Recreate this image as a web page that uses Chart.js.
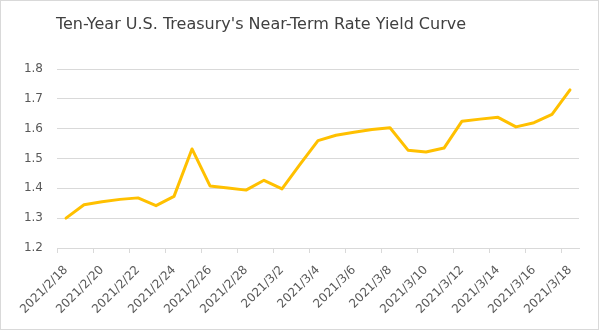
<!DOCTYPE html>
<html>
<head>
<meta charset="utf-8">
<title>Ten-Year U.S. Treasury Yield</title>
<script src="https://cdn.jsdelivr.net/npm/chart.js@4.4.1/dist/chart.umd.min.js"></script>
<style>
  html, body { margin: 0; padding: 0; background: #fff; overflow: hidden; }
  #wrap { width: 600px; height: 331px; }
</style>
</head>
<body>
<div id="wrap"><canvas id="yieldChart" width="600" height="331"></canvas></div>
<script>
'use strict';

const chartTitle = "Ten-Year U.S. Treasury's Near-Term Rate Yield Curve";

// one entry per calendar day, 2021/2/18 .. 2021/3/18
const dates = [
    '2021/2/18', '2021/2/19', '2021/2/20', '2021/2/21', '2021/2/22', '2021/2/23', '2021/2/24',
    '2021/2/25', '2021/2/26', '2021/2/27', '2021/2/28', '2021/3/1', '2021/3/2', '2021/3/3',
    '2021/3/4', '2021/3/5', '2021/3/6', '2021/3/7', '2021/3/8', '2021/3/9', '2021/3/10',
    '2021/3/11', '2021/3/12', '2021/3/13', '2021/3/14', '2021/3/15', '2021/3/16', '2021/3/17',
    '2021/3/18'
];

const yields = [
    1.300, 1.345, 1.355, 1.363, 1.368, 1.342, 1.373,
    1.532, 1.408, 1.401, 1.394, 1.427, 1.398, 1.480,
    1.560, 1.578, 1.588, 1.597, 1.603, 1.528, 1.522,
    1.535, 1.625, 1.632, 1.638, 1.606, 1.620, 1.648,
    1.730
];

const yTicks = [1.2, 1.3, 1.4, 1.5, 1.6, 1.7, 1.8];

const axisGray = '#d9d9d9';
const labelGray = '#595959';

// frame + title drawn straight on the canvas
const framePlugin = {
    id: 'frameAndTitle',
    beforeDraw(chart) {
        const ctx = chart.ctx;
        ctx.save();
        ctx.fillStyle = '#ffffff';
        ctx.fillRect(0, 0, chart.width, chart.height);
        ctx.restore();
    },
    afterDraw(chart) {
        const ctx = chart.ctx;
        ctx.save();
        ctx.strokeStyle = axisGray;
        ctx.lineWidth = 1;
        ctx.strokeRect(0.5, 0.5, 598, 329);
        ctx.fillStyle = '#404040';
        ctx.font = '16px "DejaVu Sans"';
        ctx.textAlign = 'center';
        ctx.textBaseline = 'middle';
        ctx.fillText(chartTitle, 261, 25);
        ctx.restore();
    }
};

new Chart('yieldChart', {
    type: 'line',
    data: {
        labels: dates,
        datasets: [{
            label: '10Y yield',
            data: yields,
            borderColor: '#ffc000',
            borderWidth: 3,
            borderJoinStyle: 'round',
            borderCapStyle: 'round',
            pointRadius: 0,
            tension: 0,
            fill: false
        }]
    },
    options: {
        responsive: false,
        animation: false,
        layout: {
            padding: { top: 69, right: 21, bottom: 0, left: 0 }
        },
        plugins: {
            legend: { display: false },
            title: { display: false },
            tooltip: { enabled: false }
        },
        scales: {
            x: {
                offset: true,
                afterFit: (scale) => { scale.height = 83; },
                grid: {
                    offset: true,
                    drawOnChartArea: false,
                    drawTicks: true,
                    tickLength: 5,
                    color: (ctx) => (ctx.index % 2 === 0 ? axisGray : 'rgba(0,0,0,0)')
                },
                border: { color: axisGray },
                ticks: {
                    autoSkip: false,
                    maxRotation: 45,
                    minRotation: 45,
                    padding: 10,
                    color: labelGray,
                    font: { family: 'DejaVu Sans', size: 12 },
                    callback: function(value, index) {
                        return index % 2 === 0 ? dates[index] : '';
                    }
                }
            },
            y: {
                min: 1.2,
                max: 1.8,
                afterFit: (scale) => { scale.width = 57; },
                afterBuildTicks: (scale) => {
                    scale.ticks = yTicks.map(v => ({ value: v }));
                },
                grid: {
                    color: axisGray,
                    drawTicks: false
                },
                border: { display: false },
                ticks: {
                    padding: 14,
                    color: labelGray,
                    font: { family: 'DejaVu Sans', size: 12 },
                    callback: (v) => v.toFixed(1)
                }
            }
        }
    },
    plugins: [framePlugin]
});
</script>
</body>
</html>
